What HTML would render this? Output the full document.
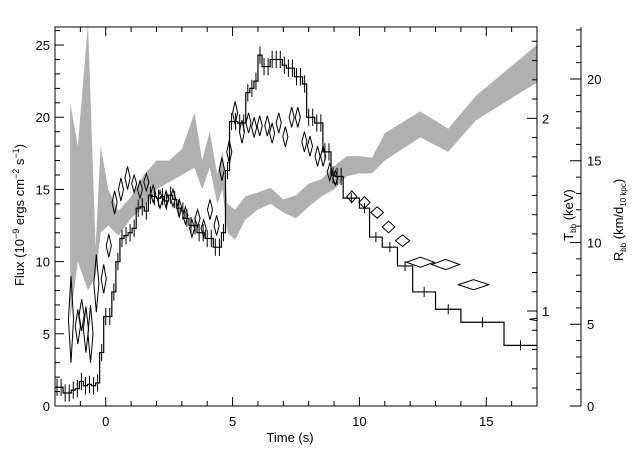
<!DOCTYPE html>
<html><head><meta charset="utf-8"><style>
html,body{margin:0;padding:0;background:#fff;}
svg{display:block;font-family:"Liberation Sans",sans-serif;}
</style></head><body>
<svg id="chart" width="640" height="457" viewBox="0 0 640 457" xmlns="http://www.w3.org/2000/svg">
<defs><clipPath id="plotclip"><rect x="55" y="27" width="482" height="379"/></clipPath></defs>
<g id="band"></g>
<g id="hist"></g>
<g id="diam" clip-path="url(#plotclip)"></g>
<g id="axes"></g>
<text x="290" y="442" font-size="13" text-anchor="middle">Time (s)</text>
<text transform="translate(24,215) rotate(-90)" font-size="13" text-anchor="middle">Flux (10<tspan dy="-5" font-size="9">−9</tspan><tspan dy="5"> ergs cm</tspan><tspan dy="-5" font-size="9">−2</tspan><tspan dy="5"> s</tspan><tspan dy="-5" font-size="9">−1</tspan><tspan dy="5">)</tspan></text>
<text transform="translate(573,215) rotate(-90)" font-size="13" text-anchor="middle">T<tspan dy="3" font-size="8">bb</tspan><tspan dy="-3"> (keV)</tspan></text>
<text transform="translate(623,220) rotate(-90)" font-size="13" text-anchor="middle">R<tspan dy="3" font-size="8">bb</tspan><tspan dy="-3"> (km/d</tspan><tspan dy="3" font-size="8">10 kpc</tspan><tspan dy="-3">)</tspan></text>
</svg>
<script>
const fineStart = -2.0, fineWidth = 0.16;
const fineFlux = [1.3,1.3,0.9,0.9,1.1,1.2,1.7,1.4,1.5,1.4,1.6,3.7,6.2,6.2,7.9,10.0,11.6,11.8,12.0,12.3,13.7,13.8,13.5,14.6,14.5,14.4,14.5,14.2,14.6,14.3,13.7,13.5,13.0,12.5,12.5,12.0,12.0,11.6,11.6,11.0,11.0,12.0,16.3,19.7,19.7,19.6,19.6,21.7,22.0,22.5,24.3,23.5,23.5,24.0,24.0,24.0,23.6,23.4,23.4,22.8,22.8,22.3,20.0,20.0,19.6,19.6,17.6,17.6,16.0,15.9,15.9];
const fineErr = 0.6;
const coarseEdges = [9.36,10.0,10.4,10.9,11.5,12.1,13.0,14.0,15.7,17.0];
const coarseFlux = [14.4,13.7,11.7,11.0,9.7,7.9,6.7,5.8,4.2];
const coarseErr = 0.35;
const diaT = [-1.37,-1.1,-0.95,-0.78,-0.6,-0.37,-0.08,0.12,0.35,0.6,0.86,1.12,1.35,1.6,1.87,2.14,2.38,2.65,2.9,3.14,3.4,3.62,3.86,4.11,4.37,4.58,4.87,5.1,5.37,5.63,5.85,6.07,6.37,6.56,6.82,7.08,7.33,7.57,7.83,8.05,8.35,8.57,8.83,9.05,9.7,10.2,10.7,11.15,11.7,12.4,13.4,14.5,17.6];
const diaF = [6.0,5.5,6.3,5.3,5.0,8.5,8.8,11.1,14.1,15.0,15.8,15.4,15.0,15.5,14.7,14.3,14.3,14.4,13.7,13.2,12.3,13.0,12.3,13.6,12.5,16.4,17.6,20.3,19.0,19.6,19.3,19.4,19.4,18.9,19.6,18.65,20.0,20.0,18.3,18.0,17.3,17.3,16.2,15.8,14.5,14.1,13.4,12.4,11.45,9.96,9.8,8.4,6.0];
const diaDT = [0.1,0.1,0.1,0.1,0.1,0.1,0.1,0.1,0.1,0.1,0.1,0.1,0.1,0.1,0.1,0.1,0.1,0.1,0.1,0.1,0.1,0.1,0.1,0.1,0.1,0.1,0.1,0.1,0.1,0.1,0.1,0.1,0.1,0.1,0.1,0.1,0.1,0.1,0.1,0.1,0.1,0.1,0.1,0.1,0.2,0.22,0.25,0.25,0.28,0.55,0.55,0.6,0.9];
const diaDF = [3.0,1.2,1.1,1.6,2.0,2.0,1.0,0.8,0.8,0.8,0.8,0.6,0.6,0.6,0.6,0.6,0.6,0.6,0.6,0.6,0.6,0.6,0.6,0.7,0.7,0.8,0.8,0.8,0.8,0.7,0.7,0.7,0.7,0.7,0.7,0.7,0.7,0.7,0.7,0.7,0.7,0.7,0.6,0.5,0.4,0.4,0.4,0.4,0.4,0.35,0.35,0.35,0.25];
const bandT = [-1.4,-1.1,-0.7,-0.4,-0.2,0.1,0.5,1.0,1.5,2.0,2.5,3.0,3.5,3.8,4.1,4.4,4.6,4.8,5.1,5.5,6.0,6.5,7.0,7.5,8.0,8.5,9.0,9.5,10.0,10.5,11.0,12.4,13.5,14.6,17.0];
const bandLo = [0.957,1.256,1.107,1.181,1.406,1.444,1.391,1.481,1.541,1.631,1.669,1.706,1.744,1.631,1.744,1.556,1.631,1.406,1.369,1.474,1.526,1.556,1.511,1.481,1.541,1.594,1.631,1.699,1.714,1.714,1.781,1.901,1.826,1.991,2.186];
const bandHi = [2.081,1.856,2.493,1.331,1.856,1.631,1.519,1.594,1.706,1.781,1.781,1.841,2.028,1.781,1.931,1.706,1.833,1.556,1.526,1.594,1.616,1.639,1.579,1.601,1.661,1.684,1.751,1.804,1.804,1.796,1.923,2.036,1.946,2.118,2.381];
const xTickLabels = ["0","5","10","15"];
const fluxTickLabels = ["0","5","10","15","20","25"];
const tempTickLabels = ["1","2"];
const radTickLabels = ["0","5","10","15","20"];

const NS = "http://www.w3.org/2000/svg";
const X0=55, X1=537, Y0=406, Y1=27;
const tMin=-2, tMax=17, fMin=0, fMax=26.25;
const sx = t => X0 + (t - tMin) / (tMax - tMin) * (X1 - X0);
const sy = f => Y0 - (f - fMin) / (fMax - fMin) * (Y0 - Y1);
const kMin=0.507, kMax=2.474;
const sk = k => Y0 - (k - kMin) / (kMax - kMin) * (Y0 - Y1);
const rMax = 23.18;
const sr = r => Y0 - r / rMax * (Y0 - Y1);
function mk(tag, attrs, parent){ const e=document.createElementNS(NS,tag); for(const k in attrs) e.setAttribute(k,attrs[k]); parent.appendChild(e); return e; }

// band
const band = document.getElementById('band');
let pts = bandT.map((t,i)=>sx(t)+','+sk(bandHi[i]));
for(let i=bandT.length-1;i>=0;i--) pts.push(sx(bandT[i])+','+sk(bandLo[i]));
const poly = mk('polygon',{points:pts.join(' '),fill:'#b0b0b0',stroke:'none'},band);



// histogram
const hist = document.getElementById('hist');
let edges=[], vals=[], errs=[];
fineFlux.forEach((f,i)=>{ edges.push(fineStart+i*fineWidth); vals.push(f); errs.push(fineErr); });
coarseFlux.forEach((f,i)=>{ edges.push(coarseEdges[i]); vals.push(f); errs.push(coarseErr); });
edges.push(coarseEdges[coarseEdges.length-1]);
let d = '';
vals.forEach((f,i)=>{ const a=sx(edges[i]), b=sx(edges[i+1]), y=sy(f);
  d += (i===0?'M':'L')+a+' '+y+' L'+b+' '+y+' ';
  const c=(a+b)/2;
  const eb = mk('line',{x1:c,x2:c,y1:sy(f-errs[i]),y2:sy(f+errs[i]),stroke:'#000','stroke-width':1},hist);
  
  
});
const hp = mk('path',{d:d,fill:'none',stroke:'#000','stroke-width':1.2},hist);



// diamonds
const diam = document.getElementById('diam');
diaT.forEach((t,i)=>{
  const cx=sx(t), cy=sy(diaF[i]), l=sx(t-diaDT[i]), r=sx(t+diaDT[i]), tp=sy(diaF[i]+diaDF[i]), bt=sy(diaF[i]-diaDF[i]);
  const p = mk('polygon',{points:`${l},${cy} ${cx},${tp} ${r},${cy} ${cx},${bt}`,fill:'none',stroke:'#000','stroke-width':1},diam);
  
  
});

// axes
const ax = document.getElementById('axes');
const frame = mk('rect',{x:X0,y:Y1,width:X1-X0,height:Y0-Y1,fill:'none',stroke:'#000','stroke-width':1},ax);


for(let t=-2;t<=17;t++){ const x=sx(t), L=(t%5===0)?9:5;
  mk('line',{x1:x,x2:x,y1:Y0,y2:Y0-L,stroke:'#000'},ax);
  mk('line',{x1:x,x2:x,y1:Y1,y2:Y1+L,stroke:'#000'},ax);
}
xTickLabels.forEach(s=>{ const tx=mk('text',{x:sx(+s),y:426,'font-size':13,'text-anchor':'middle'},ax); tx.textContent=s;
  
   });
for(let f=0;f<=26;f++){ const y=sy(f), L=(f%5===0)?9:5; mk('line',{x1:X0,x2:X0+L,y1:y,y2:y,stroke:'#000'},ax); }
fluxTickLabels.forEach(s=>{ const tx=mk('text',{x:50,y:sy(+s)+5,'font-size':13,'text-anchor':'end'},ax); tx.textContent=s;
  
   });
for(let k=6;k<=24;k++){ const v=k/10, y=sk(v), L=(k%10===0)?10:5; mk('line',{x1:X1,x2:X1-L,y1:y,y2:y,stroke:'#000'},ax); }
tempTickLabels.forEach(s=>{ const tx=mk('text',{x:542,y:sk(+s)+5,'font-size':13},ax); tx.textContent=s;
  
   });
const rax = mk('line',{x1:581,x2:581,y1:Y1,y2:Y0,stroke:'#000'},ax);


for(let r=0;r<=23;r++){ const y=sr(r), L=(r%5===0)?11:5; mk('line',{x1:581,x2:581-L,y1:y,y2:y,stroke:'#000'},ax); }
radTickLabels.forEach(s=>{ const tx=mk('text',{x:587,y:sr(+s)+5,'font-size':13},ax); tx.textContent=s;
  
   });
</script>
</body></html>
